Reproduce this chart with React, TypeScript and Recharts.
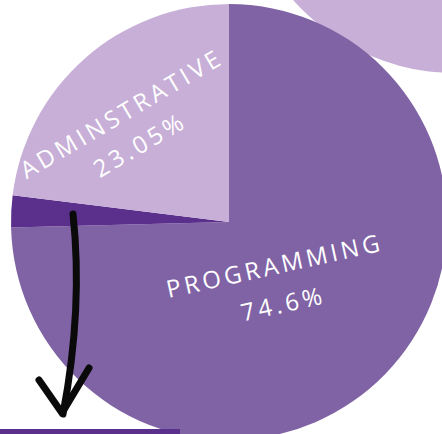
import React from "react";
import { PieChart, Pie, Cell } from "recharts";

const categories = ["PROGRAMMING", "OTHER", "ADMINSTRATIVE"];
const values = [74.6, 2.35, 23.05];
const percentLabels = ["74.6%", "", "23.05%"];
const colors = ["#8063A5", "#5B2F8C", "#C7AFD7"];
const neighborValues = [1];

const data = categories.map((name, i) => ({ name, value: values[i], pct: percentLabels[i] }));
const neighborData = neighborValues.map((value) => ({ name: "neighbor", value }));

const labelCfg: Record<number, { r: number; angOff: number; dx: number; dy: number; rot: number; dy2: number }> = {
  0: { r: 0.314, angOff: -4, dx: 2, dy: 1, rot: -12.5, dy2: 39 },
  2: { r: 0.685, angOff: 5.4, dx: 6, dy: 1, rot: -30.5, dy2: 36 },
};

const RAD = Math.PI / 180;

function renderLabel(props: any) {
  const { cx, cy, midAngle, outerRadius, index } = props;
  const cfg = labelCfg[index];
  if (!cfg) return null;
  const d = data[index];
  const r = outerRadius * cfg.r;
  const a = midAngle + cfg.angOff;
  const x = cx + r * Math.cos(-a * RAD) + cfg.dx;
  const y = cy + r * Math.sin(-a * RAD) + cfg.dy;
  return (
    <g transform={`translate(${x},${y}) rotate(${cfg.rot})`}>
      <text
        x={0}
        y={0}
        textAnchor="middle"
        fill="#ffffff"
        fontFamily="'Open Sans', sans-serif"
        fontSize={24}
        letterSpacing={3.7}
      >
        {d.name}
      </text>
      <text
        x={0}
        y={cfg.dy2}
        textAnchor="middle"
        fill="#ffffff"
        fontFamily="'Open Sans', sans-serif"
        fontSize={24}
        letterSpacing={3.7}
      >
        {d.pct}
      </text>
    </g>
  );
}

export default function App() {
  return (
    <div style={{ position: "absolute", left: 0, top: 0, width: 442, height: 434, background: "#ffffff", overflow: "hidden" }}>
      <PieChart width={442} height={434} margin={{ top: 0, right: 0, bottom: 0, left: 0 }}>
        <Pie
          data={neighborData}
          dataKey="value"
          cx={455}
          cy={-143}
          outerRadius={216}
          innerRadius={0}
          startAngle={90}
          endAngle={-270}
          stroke="none"
          isAnimationActive={false}
        >
          <Cell fill="#C7AFD7" />
        </Pie>
        <Pie
          data={data}
          dataKey="value"
          cx={229}
          cy={222}
          outerRadius={218}
          innerRadius={0}
          startAngle={90}
          endAngle={-270}
          stroke="none"
          labelLine={false}
          label={renderLabel}
          isAnimationActive={false}
        >
          {data.map((_, i) => (
            <Cell key={i} fill={colors[i]} />
          ))}
        </Pie>
      </PieChart>
      <svg width={442} height={434} style={{ position: "absolute", left: 0, top: 0, pointerEvents: "none" }}>
        <rect x={0} y={429} width={180} height={5} fill="#5B2F8C" />
        <path
          d="M73 214 C 78 260, 79 330, 63 414"
          stroke="#0a0a0a"
          strokeWidth={7}
          fill="none"
          strokeLinecap="round"
        />
        <path
          d="M39 380 L 62 413 L 89 368"
          stroke="#0a0a0a"
          strokeWidth={7}
          fill="none"
          strokeLinecap="round"
          strokeLinejoin="round"
        />
      </svg>
    </div>
  );
}
